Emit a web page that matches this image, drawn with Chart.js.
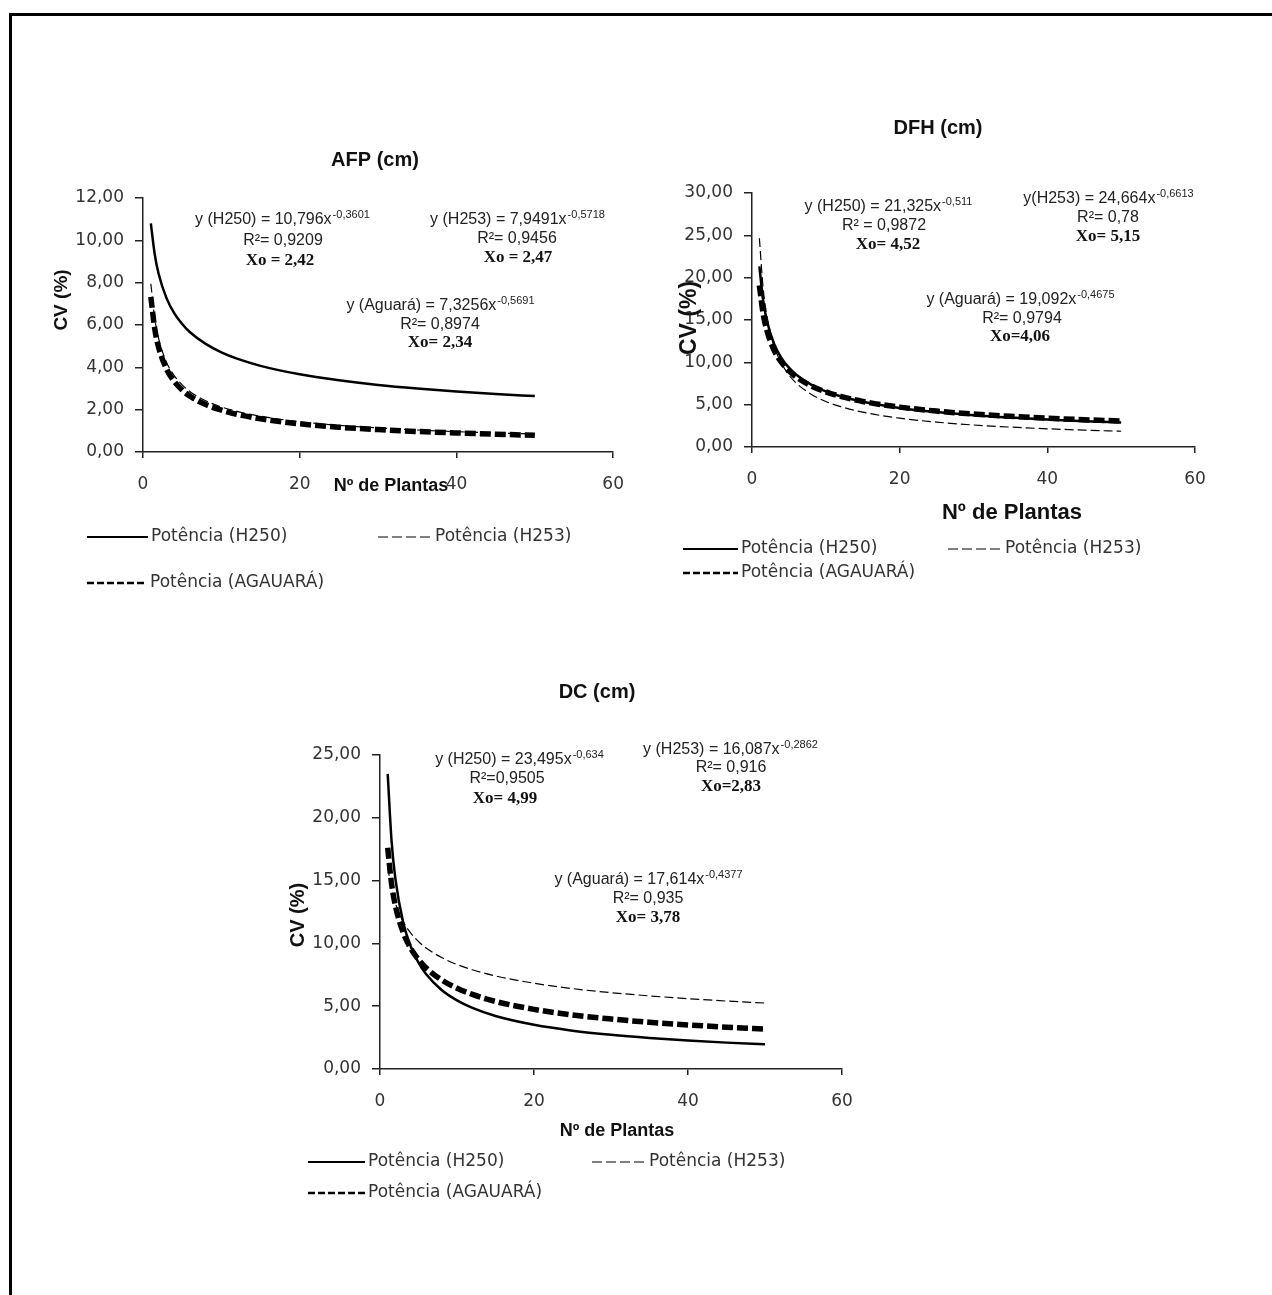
<!DOCTYPE html>
<html>
<head>
<meta charset="utf-8">
<script src="https://cdn.jsdelivr.net/npm/chart.js@4.4.1/dist/chart.umd.min.js"></script>
<style>
  html, body { margin: 0; padding: 0; background: #fff; }
  body { width: 1272px; height: 1295px; position: relative; overflow: hidden; }
  #moldura { position: absolute; left: 9px; top: 13px; width: 1300px; height: 1300px;
             border-top: 3px solid #000; border-left: 3px solid #000; }
  canvas { position: absolute; }
</style>
</head>
<body>
<div id="moldura"></div>
<canvas id="afp" width="620" height="490" style="left:20px;top:120px"></canvas>
<canvas id="dfh" width="620" height="500" style="left:640px;top:100px"></canvas>
<canvas id="dc" width="640" height="560" style="left:260px;top:660px"></canvas>
<script>
// Nº de plantas (eixo x)
const plantas = [1, 1.5, 2, 3, 4, 5, 6, 8, 10, 12, 15, 20, 25, 30, 35, 40, 45, 50];

// AFP (cm)
const afpH250   = [10.80, 9.33, 8.41, 7.27, 6.55, 6.05, 5.66, 5.11, 4.71, 4.41, 4.07, 3.67, 3.39, 3.17, 3.00, 2.86, 2.74, 2.64];
const afpH253   = [7.95, 6.30, 5.35, 4.24, 3.60, 3.17, 2.85, 2.42, 2.13, 1.92, 1.69, 1.43, 1.26, 1.14, 1.04, 0.96, 0.90, 0.85];
const afpAguara = [7.33, 5.82, 4.94, 3.92, 3.33, 2.93, 2.64, 2.24, 1.98, 1.78, 1.57, 1.33, 1.17, 1.06, 0.97, 0.90, 0.84, 0.79];

// DFH (cm)
const dfhH250   = [21.33, 17.34, 14.96, 12.16, 10.50, 9.37, 8.54, 7.37, 6.57, 5.99, 5.34, 4.61, 4.12, 3.75, 3.47, 3.24, 3.05, 2.89];
const dfhH253   = [24.66, 18.86, 15.60, 11.93, 9.86, 8.51, 7.54, 6.24, 5.38, 4.77, 4.11, 3.40, 2.94, 2.60, 2.35, 2.15, 1.99, 1.86];
const dfhAguara = [19.09, 15.79, 13.81, 11.42, 9.99, 9.00, 8.26, 7.22, 6.51, 5.98, 5.38, 4.71, 4.24, 3.89, 3.62, 3.40, 3.22, 3.07];

// DC (cm)
const dcH250   = [23.50, 18.17, 15.14, 11.71, 9.75, 8.47, 7.54, 6.29, 5.46, 4.86, 4.22, 3.52, 3.05, 2.72, 2.47, 2.27, 2.10, 1.97];
const dcH253   = [16.09, 14.32, 13.19, 11.75, 10.82, 10.15, 9.63, 8.87, 8.32, 7.90, 7.41, 6.83, 6.40, 6.08, 5.82, 5.60, 5.41, 5.25];
const dcAguara = [17.61, 14.75, 13.00, 10.89, 9.60, 8.71, 8.04, 7.09, 6.43, 5.94, 5.38, 4.75, 4.30, 3.98, 3.72, 3.51, 3.33, 3.18];

const xTicks = [0, 20, 40, 60];
const nomes = ['Potência (H250)', 'Potência (H253)', 'Potência (AGAUARÁ)'];

const estilo = {
  H250: { w: 2.5, dash: [] },
  H253: { w: 1.2, dash: [9, 4] },
  AGU:  { w: 5.5, dash: [11, 4] }
};
const legEstilo = {
  H250: { w: 2, dash: [] },
  H253: { w: 1.2, dash: [10, 4] },
  AGU:  { w: 2.5, dash: [7, 3] }
};

const TICK_FONT = { family: 'DejaVu Sans', size: 17 };
const TICK_COLOR = '#333';

function pts(ys) {
  return plantas.map((x, i) => ({ x: x, y: ys[i] }));
}

function serie(label, ys, st) {
  return {
    label: label,
    data: pts(ys),
    borderColor: '#000',
    borderWidth: st.w,
    borderDash: st.dash,
    pointRadius: 0,
    fill: false,
    showLine: true,
    cubicInterpolationMode: 'monotone'
  };
}

// textos e legenda desenhados em coordenadas da página
function textos(ox, oy, itens) {
  return {
    id: 'textos',
    afterDraw(chart) {
      const ctx = chart.ctx;
      ctx.save();
      ctx.translate(-ox, -oy);
      ctx.textBaseline = 'middle';
      itens.forEach(it => {
        ctx.fillStyle = it.color || '#222';
        if (it.t === 'txt') {
          ctx.font = it.font;
          ctx.textAlign = it.align || 'center';
          ctx.fillText(it.s, it.x, it.y);
        } else if (it.t === 'rot') {
          ctx.save();
          ctx.translate(it.x, it.y);
          ctx.rotate(-Math.PI / 2);
          ctx.font = it.font;
          ctx.textAlign = 'center';
          ctx.fillText(it.s, 0, 0);
          ctx.restore();
        } else if (it.t === 'eq') {
          const f1 = '16px "Liberation Sans"', f2 = '11px "Liberation Sans"';
          ctx.font = f1; const w1 = ctx.measureText(it.s).width;
          ctx.font = f2; const w2 = ctx.measureText(it.sup).width;
          const x0 = it.x - (w1 + w2) / 2;
          ctx.textAlign = 'left';
          ctx.font = f1; ctx.fillText(it.s, x0, it.y);
          ctx.font = f2; ctx.fillText(it.sup, x0 + w1 + 1, it.y - 5);
        } else if (it.t === 'leg') {
          const st = legEstilo[it.k];
          ctx.strokeStyle = '#000';
          ctx.lineWidth = st.w;
          ctx.setLineDash(st.dash);
          ctx.beginPath();
          ctx.moveTo(it.x1, it.y);
          ctx.lineTo(it.x2, it.y);
          ctx.stroke();
          ctx.setLineDash([]);
          ctx.font = '17px "DejaVu Sans"';
          ctx.textAlign = 'left';
          ctx.fillStyle = '#333';
          ctx.fillText(it.s, it.x2 + 3, it.y);
        }
      });
      ctx.restore();
    }
  };
}

function grafico(id, cfg) {
  const fmt = v => v.toFixed(2).replace('.', ',');
  return new Chart(document.getElementById(id), {
    type: 'scatter',
    data: {
      datasets: [
        serie(nomes[0], cfg.h250, estilo.H250),
        serie(nomes[1], cfg.h253, estilo.H253),
        serie(nomes[2], cfg.agu, estilo.AGU)
      ]
    },
    options: {
      responsive: false,
      animation: false,
      layout: { padding: cfg.pad },
      plugins: { legend: { display: false }, tooltip: { enabled: false } },
      scales: {
        x: {
          type: 'linear', min: 0, max: 60,
          afterBuildTicks: s => { s.ticks = xTicks.map(v => ({ value: v })); },
          ticks: { color: TICK_COLOR, font: TICK_FONT, padding: 16, maxRotation: 0 },
          grid: { drawOnChartArea: false, drawTicks: true, tickLength: 6, color: '#222', lineWidth: 1.5 },
          border: { color: '#222', width: 1.5 },
          afterFit: s => { s.height = 40; }
        },
        y: {
          type: 'linear', min: 0, max: cfg.ymax,
          ticks: { stepSize: cfg.step, color: TICK_COLOR, font: TICK_FONT, padding: 11, callback: fmt },
          grid: { drawOnChartArea: false, drawTicks: true, tickLength: 8, color: '#222', lineWidth: 1.5 },
          border: { color: '#222', width: 1.5 },
          afterFit: s => { s.width = 85; }
        }
      }
    },
    plugins: [textos(cfg.ox, cfg.oy, cfg.itens)]
  });
}

const TIT = 'bold 20px "Liberation Sans"';
const XO = 'bold 17px "Liberation Serif"';
const R2 = '16px "Liberation Sans"';

grafico('afp', {
  h250: afpH250, h253: afpH253, agu: afpAguara, ymax: 12, step: 2,
  pad: { left: 38, right: 22, top: 78, bottom: 118 }, ox: 20, oy: 120,
  itens: [
    { t: 'txt', s: 'AFP (cm)', x: 375, y: 160, font: TIT, color: '#111' },
    { t: 'rot', s: 'CV (%)', x: 62, y: 300, font: 'bold 19px "Liberation Sans"', color: '#111' },
    { t: 'txt', s: 'Nº de Plantas', x: 391, y: 486, font: 'bold 18px "Liberation Sans"', color: '#111' },
    { t: 'eq', s: 'y (H250) = 10,796x', sup: '-0,3601', x: 282, y: 220 },
    { t: 'txt', s: 'R²= 0,9209', x: 283, y: 241, font: R2 },
    { t: 'txt', s: 'Xo = 2,42', x: 280, y: 261, font: XO, color: '#111' },
    { t: 'eq', s: 'y (H253) = 7,9491x', sup: '-0,5718', x: 517, y: 220 },
    { t: 'txt', s: 'R²= 0,9456', x: 517, y: 239, font: R2 },
    { t: 'txt', s: 'Xo = 2,47', x: 518, y: 258, font: XO, color: '#111' },
    { t: 'eq', s: 'y (Aguará) = 7,3256x', sup: '-0,5691', x: 440, y: 306 },
    { t: 'txt', s: 'R²= 0,8974', x: 440, y: 325, font: R2 },
    { t: 'txt', s: 'Xo= 2,34', x: 440, y: 343, font: XO, color: '#111' },
    { t: 'leg', k: 'H250', s: nomes[0], x1: 87, x2: 148, y: 537 },
    { t: 'leg', k: 'H253', s: nomes[1], x1: 378, x2: 432, y: 537 },
    { t: 'leg', k: 'AGU', s: nomes[2], x1: 87, x2: 147, y: 583 }
  ]
});

grafico('dfh', {
  h250: dfhH250, h253: dfhH253, agu: dfhAguara, ymax: 30, step: 5,
  pad: { left: 27, right: 65, top: 93, bottom: 113 }, ox: 640, oy: 100,
  itens: [
    { t: 'txt', s: 'DFH (cm)', x: 938, y: 128, font: TIT, color: '#111' },
    { t: 'rot', s: 'CV (%)', x: 690, y: 318, font: 'bold 23px "Liberation Sans"', color: '#111' },
    { t: 'txt', s: 'Nº de Plantas', x: 1012, y: 513, font: 'bold 22px "Liberation Sans"', color: '#111' },
    { t: 'eq', s: 'y (H250) = 21,325x', sup: '-0,511', x: 888, y: 207 },
    { t: 'txt', s: 'R² = 0,9872', x: 884, y: 226, font: R2 },
    { t: 'txt', s: 'Xo= 4,52', x: 888, y: 245, font: XO, color: '#111' },
    { t: 'eq', s: 'y(H253) = 24,664x', sup: '-0,6613', x: 1108, y: 199 },
    { t: 'txt', s: 'R²= 0,78', x: 1108, y: 218, font: R2 },
    { t: 'txt', s: 'Xo= 5,15', x: 1108, y: 237, font: XO, color: '#111' },
    { t: 'eq', s: 'y (Aguará) = 19,092x', sup: '-0,4675', x: 1020, y: 300 },
    { t: 'txt', s: 'R²= 0,9794', x: 1022, y: 319, font: R2 },
    { t: 'txt', s: 'Xo=4,06', x: 1020, y: 337, font: XO, color: '#111' },
    { t: 'leg', k: 'H250', s: nomes[0], x1: 683, x2: 738, y: 549 },
    { t: 'leg', k: 'H253', s: nomes[1], x1: 948, x2: 1002, y: 549 },
    { t: 'leg', k: 'AGU', s: nomes[2], x1: 683, x2: 738, y: 573 }
  ]
});

grafico('dc', {
  h250: dcH250, h253: dcH253, agu: dcAguara, ymax: 25, step: 5,
  pad: { left: 35, right: 58, top: 95, bottom: 111 }, ox: 260, oy: 660,
  itens: [
    { t: 'txt', s: 'DC (cm)', x: 597, y: 692, font: TIT, color: '#111' },
    { t: 'rot', s: 'CV (%)', x: 298, y: 915, font: 'bold 20px "Liberation Sans"', color: '#111' },
    { t: 'txt', s: 'Nº de Plantas', x: 617, y: 1131, font: 'bold 18px "Liberation Sans"', color: '#111' },
    { t: 'eq', s: 'y (H250) = 23,495x', sup: '-0,634', x: 519, y: 760 },
    { t: 'txt', s: 'R²=0,9505', x: 507, y: 779, font: R2 },
    { t: 'txt', s: 'Xo= 4,99', x: 505, y: 799, font: XO, color: '#111' },
    { t: 'eq', s: 'y (H253) = 16,087x', sup: '-0,2862', x: 730, y: 750 },
    { t: 'txt', s: 'R²= 0,916', x: 731, y: 768, font: R2 },
    { t: 'txt', s: 'Xo=2,83', x: 731, y: 787, font: XO, color: '#111' },
    { t: 'eq', s: 'y (Aguará) = 17,614x', sup: '-0,4377', x: 648, y: 880 },
    { t: 'txt', s: 'R²= 0,935', x: 648, y: 899, font: R2 },
    { t: 'txt', s: 'Xo= 3,78', x: 648, y: 918, font: XO, color: '#111' },
    { t: 'leg', k: 'H250', s: nomes[0], x1: 308, x2: 365, y: 1162 },
    { t: 'leg', k: 'H253', s: nomes[1], x1: 592, x2: 646, y: 1162 },
    { t: 'leg', k: 'AGU', s: nomes[2], x1: 308, x2: 365, y: 1193 }
  ]
});
</script>
</body>
</html>
